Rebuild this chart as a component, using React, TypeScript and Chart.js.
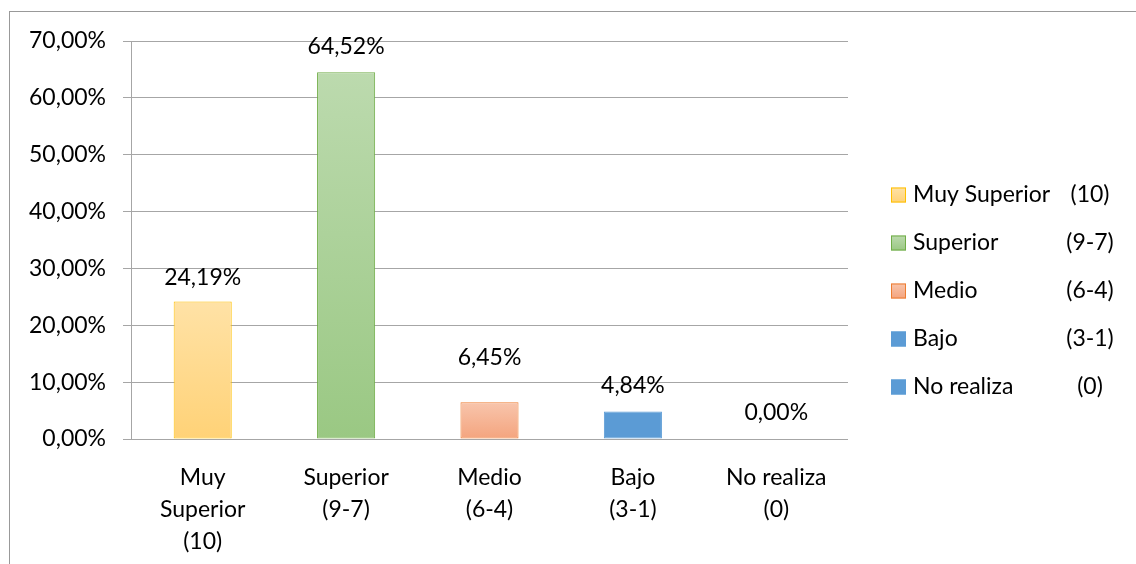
import React, { useEffect, useRef } from "react";
import { Chart, registerables } from "chart.js";

Chart.register(...registerables);

// Category labels (multi-line) along the x axis
const categories: string[][] = [
  ["Muy", "Superior", "(10)"],
  ["Superior", "(9-7)"],
  ["Medio", "(6-4)"],
  ["Bajo", "(3-1)"],
  ["No realiza", "(0)"],
];

// Percentage of students per level
const values: number[] = [24.19, 64.52, 6.45, 4.84, 0];

// Legend entries: level name and grade range
const legendNames: string[] = ["Muy Superior", "Superior", "Medio", "Bajo", "No realiza"];
const legendRanges: string[] = ["(10)", "(9-7)", "(6-4)", "(3-1)", "(0)"];

// Y axis range
const yMin = 0;
const yMax = 70;
const yStep = 10;

// Fill gradients (top -> bottom) and outlines for each bar
const fillTop = ["#FFE2A6", "#BCDAAE", "#F8C5AC", "#5B9BD5", "#5B9BD5"];
const fillBottom = ["#FFD277", "#9AC883", "#F4A47E", "#5B9BD5", "#5B9BD5"];
const outline = ["#FFC000", "#70AD47", "#ED7D31", "#5B9BD5", "#5B9BD5"];

// Extra lift for the value label above a bar (px)
const labelLift = [24, 26, 45, 26, 26];

const FONT_FAMILY = "Lato, 'Open Sans', sans-serif";
const FONT_SIZE = 23;
const TEXT_COLOR = "#000000";
const GRID_COLOR = "#A6A6A6";

const fmtPct = (v: number) => v.toFixed(2).replace(".", ",") + "%";

const valueLabels = {
  id: "valueLabels",
  afterDatasetsDraw(chart: Chart) {
    const ctx = chart.ctx;
    const meta = chart.getDatasetMeta(0);
    ctx.save();
    ctx.font = `${FONT_SIZE}px ${FONT_FAMILY}`;
    ctx.fillStyle = TEXT_COLOR;
    ctx.textAlign = "center";
    ctx.textBaseline = "middle";
    meta.data.forEach((el: any, i: number) => {
      ctx.fillText(fmtPct(values[i]), el.x, el.y - labelLift[i]);
    });
    ctx.restore();
  },
};

const sideLegend = {
  id: "sideLegend",
  afterDraw(chart: Chart) {
    const ctx = chart.ctx;
    const area = chart.chartArea;
    const boxX = area.right + 43;
    const textX = boxX + 22;
    const rangeCenterX = area.right + 242;
    const firstY = area.top + 154;
    const rowGap = 48;
    const box = 15;
    ctx.save();
    ctx.font = `${FONT_SIZE}px ${FONT_FAMILY}`;
    ctx.fillStyle = TEXT_COLOR;
    ctx.textBaseline = "middle";
    legendNames.forEach((name, i) => {
      const cy = firstY + i * rowGap;
      const top = cy - box / 2;
      const g = ctx.createLinearGradient(0, top, 0, top + box);
      g.addColorStop(0, fillTop[i]);
      g.addColorStop(1, fillBottom[i]);
      ctx.fillStyle = g;
      ctx.fillRect(boxX, top, box, box);
      ctx.strokeStyle = outline[i];
      ctx.lineWidth = 1;
      ctx.strokeRect(boxX + 0.5, top + 0.5, box - 1, box - 1);
      ctx.fillStyle = TEXT_COLOR;
      ctx.textAlign = "left";
      ctx.fillText(name, textX, cy);
      ctx.textAlign = "center";
      ctx.fillText(legendRanges[i], rangeCenterX, cy);
    });
    ctx.restore();
  },
};

export default function App() {
  const canvasRef = useRef<HTMLCanvasElement | null>(null);

  useEffect(() => {
    const canvas = canvasRef.current;
    if (!canvas) return;
    const chart = new Chart(canvas, {
      type: "bar",
      data: {
        labels: categories,
        datasets: [
          {
            data: values,
            backgroundColor: (c: any) => {
              const i = c.dataIndex;
              const y = c.chart.scales?.y;
              if (i === undefined || !y) return fillBottom[i ?? 0];
              const top = y.getPixelForValue(values[i]);
              const base = y.getPixelForValue(0);
              if (!isFinite(top) || !isFinite(base) || base - top < 1) return fillBottom[i];
              const g = c.chart.ctx.createLinearGradient(0, top, 0, base);
              g.addColorStop(0, fillTop[i]);
              g.addColorStop(1, fillBottom[i]);
              return g;
            },
            borderColor: outline,
            borderWidth: 1,
            borderSkipped: false,
            categoryPercentage: 1,
            barPercentage: 0.405,
          },
        ],
      },
      options: {
        responsive: false,
        animation: false,
        devicePixelRatio: 1,
        layout: { padding: { left: 0, top: 41, right: 288, bottom: 0 } },
        plugins: {
          legend: { display: false },
          tooltip: { enabled: false },
        },
        scales: {
          x: {
            grid: { display: false, drawTicks: false },
            border: { display: false },
            ticks: {
              color: TEXT_COLOR,
              font: { family: FONT_FAMILY, size: FONT_SIZE, lineHeight: 1.4 },
              padding: 22,
              maxRotation: 0,
              autoSkip: false,
            },
            afterFit: (s: any) => {
              s.height = 125;
            },
          },
          y: {
            min: yMin,
            max: yMax,
            grid: { color: GRID_COLOR, lineWidth: 1, tickLength: 8, drawTicks: true },
            border: { display: true, color: GRID_COLOR, width: 1 },
            ticks: {
              stepSize: yStep,
              color: TEXT_COLOR,
              font: { family: FONT_FAMILY, size: FONT_SIZE },
              padding: 17,
              callback: (v: any) => fmtPct(Number(v)),
            },
            afterFit: (s: any) => {
              s.width = 131;
            },
          },
        },
      },
      plugins: [valueLabels, sideLegend],
    });
    return () => chart.destroy();
  }, []);

  return (
    <div
      style={{
        position: "fixed",
        left: 0,
        top: 0,
        width: 1136,
        height: 564,
        overflow: "hidden",
        background: "#ffffff",
      }}
    >
      <div
        style={{
          position: "absolute",
          left: 9,
          top: 11,
          width: 1200,
          height: 600,
          borderLeft: "1px solid #999999",
          borderTop: "1px solid #999999",
        }}
      />
      <canvas
        ref={canvasRef}
        width={1136}
        height={564}
        style={{ position: "absolute", left: 0, top: 0, width: 1136, height: 564 }}
      />
    </div>
  );
}
